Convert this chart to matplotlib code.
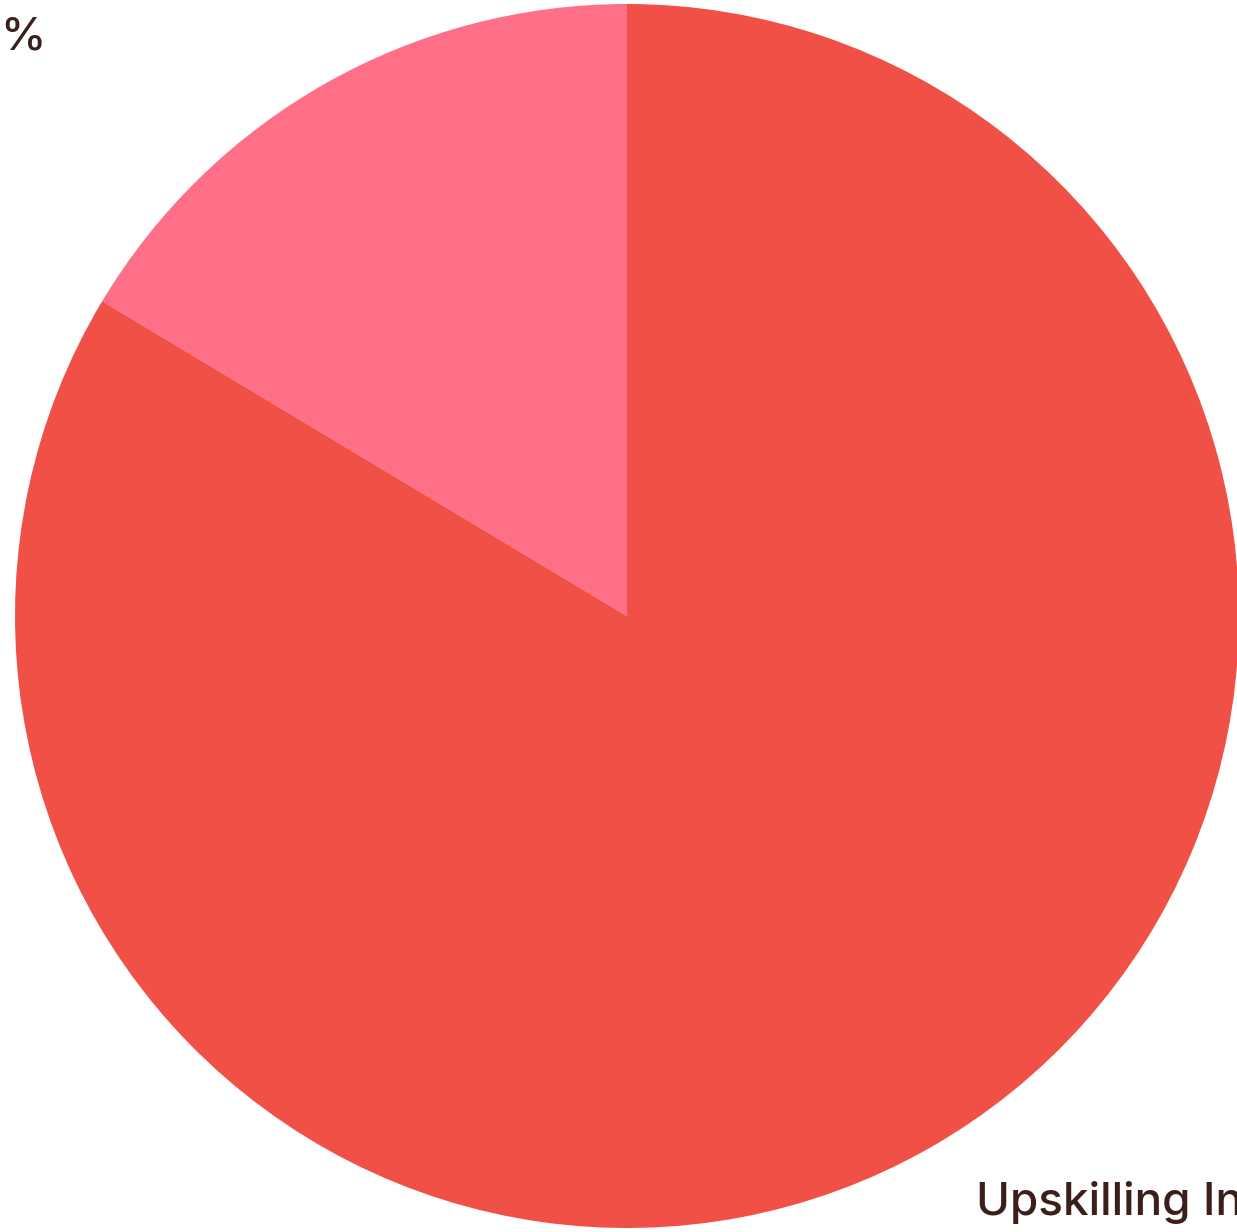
import matplotlib
matplotlib.use("Agg")
import matplotlib.pyplot as plt

# Share of responses by category
categories = ["Other", "Upskilling Initiatives"]
shares = [16.4, 83.6]
colors = ["#FF6F87", "#F05046"]
text_color = "#3B1F1B"

W, H = 1237, 1232
fig = plt.figure(figsize=(W / 100, H / 100), dpi=100)
fig.patch.set_facecolor("white")

# Square axes holding the pie, sized in pixels
cx, cy, r = 627, 616, 612
ax = fig.add_axes([(cx - r) / W, (H - cy - r) / H, 2 * r / W, 2 * r / H])
ax.pie(shares, colors=colors, startangle=90, counterclock=True, radius=1,
       wedgeprops=dict(linewidth=0))
ax.set_xlim(-1, 1)
ax.set_ylim(-1, 1)
ax.set_aspect("equal")
ax.axis("off")

font = ["Inter", "DejaVu Sans"]
fig.text(0 / W, 1 - 50 / H, "%", family=font, fontsize=33, fontweight="medium",
         color=text_color, ha="left", va="baseline")
fig.text(976 / W, 1 - 1215 / H, "Upskilling In", family=font, fontsize=33,
         fontweight="medium", color=text_color, ha="left", va="baseline")

fig.savefig("out.png", dpi=100, facecolor="white")
